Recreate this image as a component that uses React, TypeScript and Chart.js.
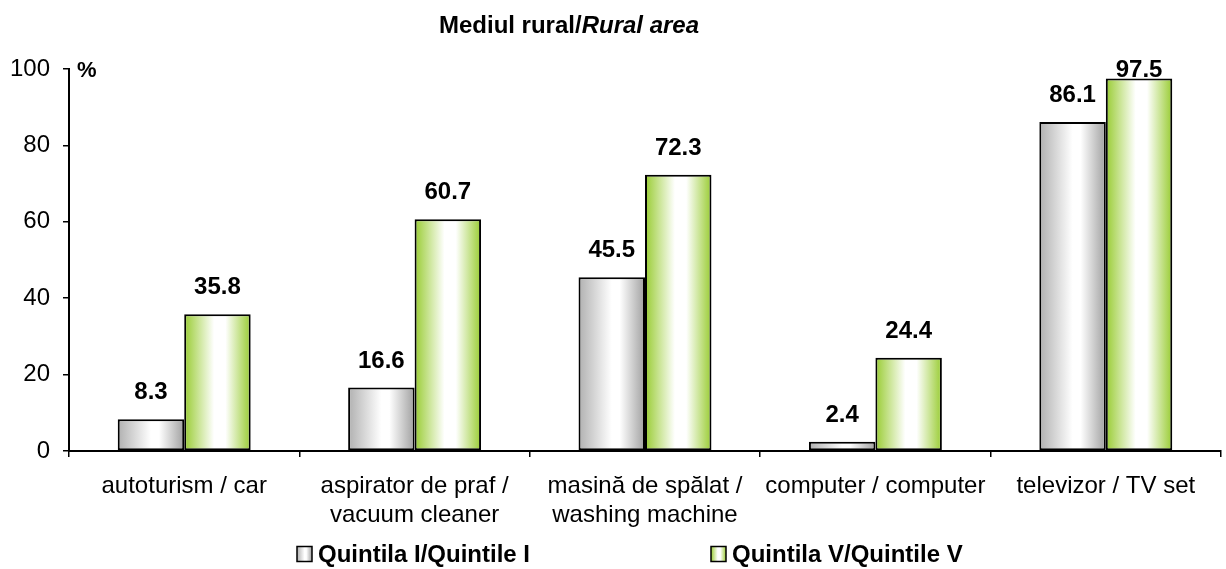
import React, { useEffect, useRef } from "react";
import { Chart, registerables } from "chart.js";

Chart.register(...registerables);

const categories: string[][] = [
  ["autoturism / car"],
  ["aspirator de praf /", "vacuum cleaner"],
  ["masină de spălat /", "washing machine"],
  ["computer / computer"],
  ["televizor / TV set"],
];
const quintileI: number[] = [8.3, 16.6, 45.5, 2.4, 86.1];
const quintileV: number[] = [35.8, 60.7, 72.3, 24.4, 97.5];
const seriesNames: string[] = ["Quintila I/Quintile I", "Quintila V/Quintile V"];
const yTicks: number[] = [0, 20, 40, 60, 80, 100];

const FONT = "Arial, 'Liberation Sans', sans-serif";

const grayStops: [number, string][] = [
  [0, "#b0b0b0"],
  [0.5, "#ffffff"],
  [0.62, "#ffffff"],
  [1, "#a0a0a0"],
];
const greenStops: [number, string][] = [
  [0, "#99cc33"],
  [0.45, "#ffffff"],
  [0.62, "#ffffff"],
  [1, "#99cc33"],
];

function makeGrad(ctx: CanvasRenderingContext2D, x0: number, x1: number, stops: [number, string][]) {
  const g = ctx.createLinearGradient(x0, 0, x1, 0);
  stops.forEach(([o, c]) => g.addColorStop(o, c));
  return g;
}

const gradientPlugin = {
  id: "gradBars",
  beforeDatasetsDraw(chart: any) {
    const ctx = chart.ctx;
    chart.data.datasets.forEach((ds: any, di: number) => {
      const meta = chart.getDatasetMeta(di);
      const stops = di === 0 ? grayStops : greenStops;
      meta.data.forEach((el: any) => {
        const x0 = el.x - el.width / 2;
        const x1 = el.x + el.width / 2;
        el.options = Object.assign({}, el.options, {
          backgroundColor: makeGrad(ctx, x0, x1, stops),
        });
      });
    });
  },
  afterDatasetsDraw(chart: any) {
    const ctx = chart.ctx;
    const area = chart.chartArea;
    ctx.save();
    ctx.fillStyle = "#000";
    ctx.font = `bold 24px ${FONT}`;
    ctx.textAlign = "center";
    ctx.textBaseline = "middle";
    chart.data.datasets.forEach((ds: any, di: number) => {
      const meta = chart.getDatasetMeta(di);
      meta.data.forEach((el: any, i: number) => {
        const y = Math.max(el.y - 26.5, area.top + 1);
        ctx.fillText(ds.data[i].toFixed(1), el.x, y);
      });
    });
    // percent sign
    ctx.textAlign = "left";
    ctx.font = `bold 22px ${FONT}`;
    ctx.fillText("%", area.left + 8, area.top + 2);
    // title
    ctx.font = `bold 24px ${FONT}`;
    const p1 = "Mediul rural/";
    const p2 = "Rural area";
    const w1 = ctx.measureText(p1).width;
    ctx.font = `italic bold 24px ${FONT}`;
    const w2 = ctx.measureText(p2).width;
    const cx = 569;
    const tx = cx - (w1 + w2) / 2;
    ctx.font = `bold 24px ${FONT}`;
    ctx.fillText(p1, tx, 26);
    ctx.font = `italic bold 24px ${FONT}`;
    ctx.fillText(p2, tx + w1, 26);
    // legend
    const legendX = [297, 711];
    const ly = 554;
    ctx.font = `bold 24px ${FONT}`;
    seriesNames.forEach((name, i) => {
      const x = legendX[i];
      const s = 15;
      ctx.fillStyle = makeGrad(ctx, x, x + s, i === 0 ? grayStops : greenStops);
      ctx.fillRect(x, ly - s / 2, s, s);
      ctx.lineWidth = 1.5;
      ctx.strokeStyle = "#000";
      ctx.strokeRect(x, ly - s / 2, s, s);
      ctx.fillStyle = "#000";
      ctx.fillText(name, x + s + 6, ly + 1);
    });
    ctx.restore();
  },
};

export default function App() {
  const ref = useRef<HTMLCanvasElement>(null);
  useEffect(() => {
    document.body.style.margin = "0";
    const chart = new Chart(ref.current as HTMLCanvasElement, {
      type: "bar",
      data: {
        labels: categories,
        datasets: [
          {
            label: seriesNames[0],
            data: quintileI,
            backgroundColor: "#dddddd",
            borderColor: "#000",
            borderWidth: 2,
            borderSkipped: false,
            categoryPercentage: 0.577,
            barPercentage: 1,
          },
          {
            label: seriesNames[1],
            data: quintileV,
            backgroundColor: "#bbdd77",
            borderColor: "#000",
            borderWidth: 2,
            borderSkipped: false,
            categoryPercentage: 0.577,
            barPercentage: 1,
          },
        ],
      },
      options: {
        responsive: false,
        animation: false,
        layout: { padding: { top: 69, right: 5, left: 0, bottom: 0 } },
        plugins: {
          legend: { display: false },
          title: { display: false },
          tooltip: { enabled: false },
        },
        scales: {
          x: {
            grid: {
              offset: true,
              drawOnChartArea: false,
              drawTicks: true,
              tickLength: 6,
              color: "#000",
              lineWidth: 1.5,
            },
            border: { color: "#000", width: 2 },
            ticks: {
              color: "#000",
              font: { family: FONT, size: 24, lineHeight: 1.2 },
              padding: 15,
              maxRotation: 0,
              minRotation: 0,
              autoSkip: false,
            },
            afterFit: (s: any) => {
              s.height = 118;
            },
          },
          y: {
            min: 0,
            max: 100,
            afterBuildTicks: (s: any) => {
              s.ticks = yTicks.map((v) => ({ value: v }));
            },
            grid: {
              drawOnChartArea: false,
              drawTicks: true,
              tickLength: 6,
              color: "#000",
              lineWidth: 1.5,
            },
            border: { color: "#000", width: 2 },
            ticks: {
              color: "#000",
              font: { family: FONT, size: 24 },
              padding: 13,
            },
            afterFit: (s: any) => {
              s.width = 69;
            },
          },
        },
      },
      plugins: [gradientPlugin],
    });
    return () => chart.destroy();
  }, []);
  return <canvas ref={ref} width={1226} height={569} style={{ display: "block" }} />;
}
